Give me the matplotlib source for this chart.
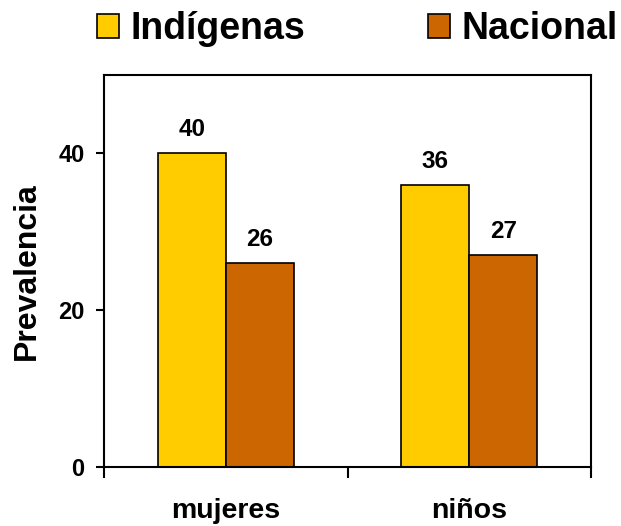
import numpy as np
import matplotlib.pyplot as plt

plt.rcParams['font.family'] = ['Liberation Sans', 'DejaVu Sans']
plt.rcParams['font.weight'] = 'bold'

categorias = ['mujeres', 'niños']
series = ['Indígenas', 'Nacional']
indigenas = [40, 36]
nacional = [26, 27]
colores = ['#FFCC00', '#CC6600']

fig = plt.figure(figsize=(6.21, 5.26), dpi=100)
ax = fig.add_axes([104/621, 1 - 467/526, 487/621, 392/526])

x = np.arange(len(categorias))
w = 0.28
b1 = ax.bar(x - w/2, indigenas, w, color=colores[0], edgecolor='black', linewidth=1.2, label=series[0])
b2 = ax.bar(x + w/2, nacional, w, color=colores[1], edgecolor='black', linewidth=1.2, label=series[1])

# etiquetas de valor encima de cada barra
for bars in (b1, b2):
    for r in bars:
        ax.text(r.get_x() + r.get_width()/2, r.get_height() + 2.2, f'{r.get_height():.0f}',
                ha='center', va='baseline', fontsize=17.5, fontweight='bold')

ax.set_xlim(-0.5, 1.5)
ax.set_ylim(0, 50)
ax.set_yticks([0, 20, 40])
ax.set_xticks([-0.5, 0.5, 1.5])
ax.set_xticklabels([])
ax.set_xticks(x, minor=True)
ax.set_xticklabels(categorias, minor=True)
ax.tick_params(axis='x', which='minor', length=0, pad=22, labelsize=20.5)
ax.tick_params(axis='x', which='major', length=8, width=1.5, direction='out')
ax.tick_params(axis='y', length=6, width=1.5, direction='out', labelsize=17, pad=8)
for lab in ax.get_xticklabels(minor=True) + ax.get_yticklabels():
    lab.set_fontweight('bold')
for s in ax.spines.values():
    s.set_linewidth(1.5)

ax.set_ylabel('Prevalencia', fontsize=23, fontweight='bold', labelpad=12)

fig.legend(handles=[b1, b2], labels=series, loc='center left', bbox_to_anchor=(97/621, 1 - 29/526),
           ncol=2, frameon=False, prop={'weight': 'bold', 'size': 27},
           borderpad=0, borderaxespad=0,
           handlelength=0.59, handleheight=0.59, handletextpad=0.3, columnspacing=3.27)

fig.savefig('out.png', dpi=100)
